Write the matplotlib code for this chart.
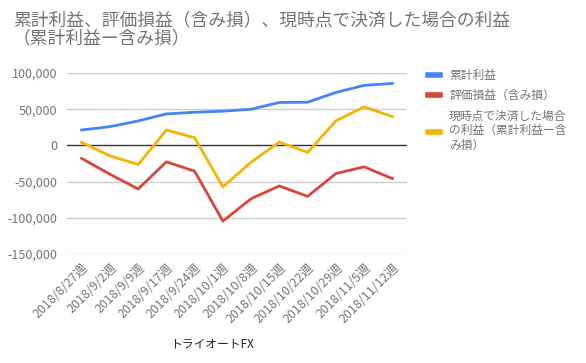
import matplotlib
matplotlib.use('Agg')
import matplotlib.pyplot as plt
import numpy as np

plt.rcParams['font.family'] = ['Noto Sans CJK JP', 'DejaVu Sans']

weeks = ['2018/8/27週', '2018/9/2週', '2018/9/9週', '2018/9/17週', '2018/9/24週',
         '2018/10/1週', '2018/10/8週', '2018/10/15週', '2018/10/22週',
         '2018/10/29週', '2018/11/5週', '2018/11/12週']
cum_profit = [21300, 25900, 33800, 43500, 45800, 47200, 50000, 59300, 59700, 73100, 82900, 85600]
unrealized = [-18000, -39800, -60200, -22700, -35600, -104600, -73600, -56000, -70400, -38900, -29600, -45800]
settled = [4200, -14400, -26400, 21300, 10600, -57400, -23100, 4600, -9700, 33800, 53200, 39800]

labels = ['累計利益', '評価損益（含み損）', '現時点で決済した場合\nの利益（累計利益ー含\nみ損）']
colors = ['#4285F4', '#DB4437', '#F4B400']
yticks = [100000, 50000, 0, -50000, -100000, -150000]

W, H = 586, 363
fig = plt.figure(figsize=(W / 100, H / 100), dpi=100)
ax = fig.add_axes([67 / W, 1 - 254 / H, (407 - 67) / W, (254 - 73) / H])

x = np.arange(len(weeks))
for series, c, lab in zip([cum_profit, unrealized, settled], colors, labels):
    ax.plot(x, series, color=c, linewidth=2, label=lab, zorder=3)

ax.set_ylim(-150000, 100000)
ax.set_xlim(-0.52, len(weeks) - 0.48)
ax.set_yticks(yticks)
ax.set_yticklabels([f'{v:,}' for v in yticks])
for v in yticks:
    ax.axhline(v, color='#333333' if v == 0 else '#cccccc', linewidth=1, zorder=1)
for s in ax.spines.values():
    s.set_visible(False)
ax.tick_params(axis='both', length=0, colors='#757575', labelsize=9)
ax.tick_params(axis='y', pad=7)
ax.tick_params(axis='x', pad=5)
ax.set_xticks(x)
ax.set_xticklabels(weeks, rotation=45, ha='right', rotation_mode='anchor')
ax.set_xlabel('トライオートFX', fontsize=8.5, color='#222222', labelpad=12)
ax.xaxis.set_label_coords(0.426, -0.46)

fig.text(13 / W, 1 - 11 / H, '累計利益、評価損益（含み損）、現時点で決済した場合の利益\n（累計利益ー含み損）',
         fontsize=12.8, color='#757575', va='top', ha='left', linespacing=1.0)

leg = ax.legend(loc='upper left', bbox_to_anchor=(1.03, 1.08), frameon=False,
                fontsize=8.5, handlelength=1.0, handletextpad=0.8,
                labelspacing=0.6, labelcolor='#757575')
for h in leg.get_lines():
    h.set_linewidth(4)

fig.savefig('out.png', dpi=100)
